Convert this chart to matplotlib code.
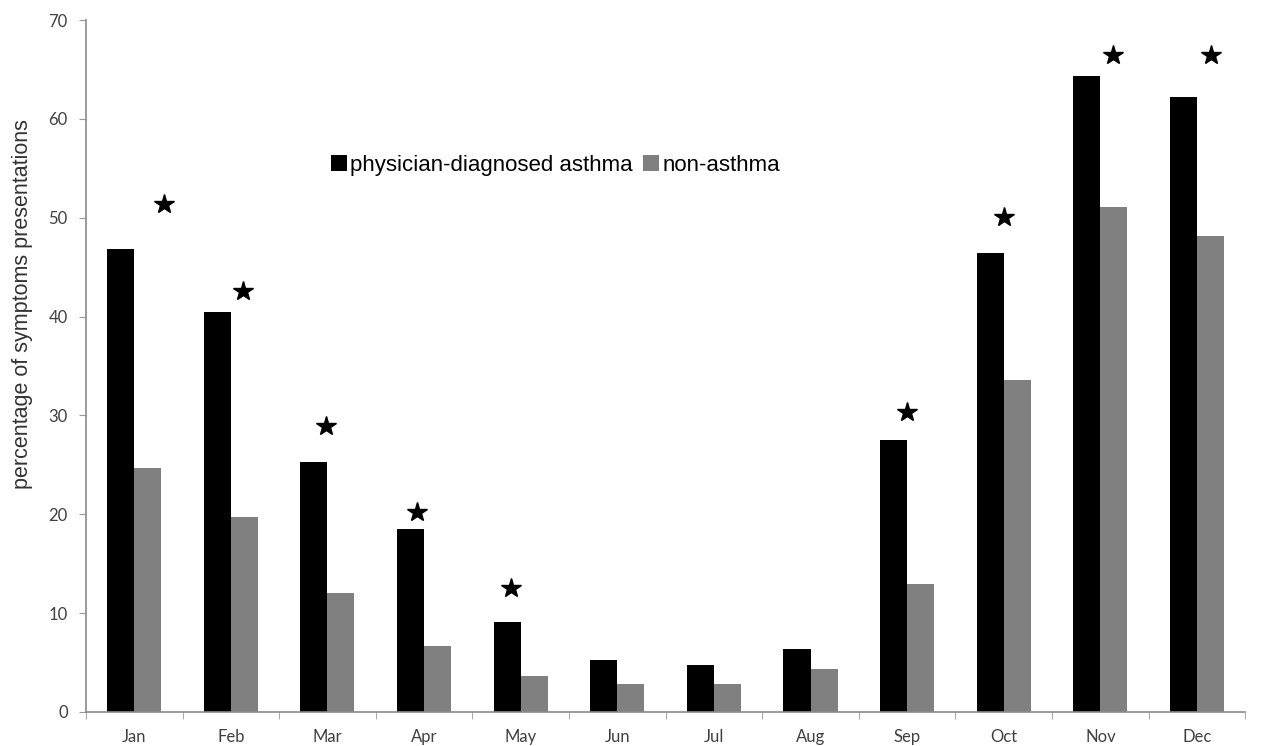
import matplotlib
matplotlib.use("Agg")
import matplotlib.pyplot as plt
import numpy as np
from matplotlib.patches import Patch

months = ["Jan", "Feb", "Mar", "Apr", "May", "Jun", "Jul", "Aug", "Sep", "Oct", "Nov", "Dec"]
asthma = [46.8, 40.5, 25.3, 18.5, 9.1, 5.3, 4.8, 6.4, 27.5, 46.4, 64.3, 62.2]
non_asthma = [24.7, 19.7, 12.0, 6.7, 3.6, 2.8, 2.8, 4.3, 12.9, 33.6, 51.1, 48.2]
# significance stars: (month index, height)
star_idx = [0, 1, 2, 3, 4, 8, 9, 10, 11]
star_y = [51.4, 42.6, 28.9, 20.2, 12.5, 30.4, 50.1, 66.5, 66.5]
star_dx = [0.31, 0.13, -0.02, -0.07, -0.10, 0.0, 0.0, 0.13, 0.14]

fig = plt.figure(figsize=(12.63, 7.46), dpi=100)
ax = fig.add_axes([0.068, 0.0456, 0.918, 0.9274])

x = np.arange(len(months))
w = 0.28
ax.bar(x - w / 2, asthma, width=w, color="black", zorder=2)
ax.bar(x + w / 2, non_asthma, width=w, color="#808080", zorder=2)

sx = [x[i] + d for i, d in zip(star_idx, star_dx)]
ax.plot(sx, star_y, linestyle="none", marker="*", markersize=14.5,
        color="black", zorder=3)

ax.set_xlim(-0.5, len(months) - 0.5)
ax.set_ylim(0, 70)
ax.set_yticks(range(0, 71, 10))
ax.set_xticks(x)
ax.set_xticklabels(months)
ax.set_xticks(np.arange(-0.5, len(months) + 0.5, 1), minor=True)
ax.tick_params(axis="x", which="major", length=0, pad=12)
ax.tick_params(axis="x", which="minor", length=5, color="#999999", direction="out")
ax.tick_params(axis="y", length=5, color="#999999", pad=8)
for lab in ax.get_xticklabels() + ax.get_yticklabels():
    lab.set_family("Lato")
    lab.set_fontsize(12)
    lab.set_color("#404040")

for s in ["top", "right"]:
    ax.spines[s].set_visible(False)
for s in ["left", "bottom"]:
    ax.spines[s].set_color("#8a8a8a")
    ax.spines[s].set_linewidth(1.2)

ax.set_ylabel("percentage of symptoms presentations", fontsize=15.5,
              family="Liberation Sans", color="#333333")
ax.yaxis.set_label_coords(-0.046, 0.59)

handles = [Patch(facecolor="black"), Patch(facecolor="#808080")]
leg = ax.legend(handles, ["physician-diagnosed asthma", "non-asthma"],
                loc="center", bbox_to_anchor=(0.405, 0.79), ncol=2, frameon=False,
                prop={"family": "Liberation Sans", "size": 16},
                handlelength=0.72, handleheight=0.72, handletextpad=0.15,
                columnspacing=0.45)

fig.savefig("out.png", dpi=100, facecolor="white")
